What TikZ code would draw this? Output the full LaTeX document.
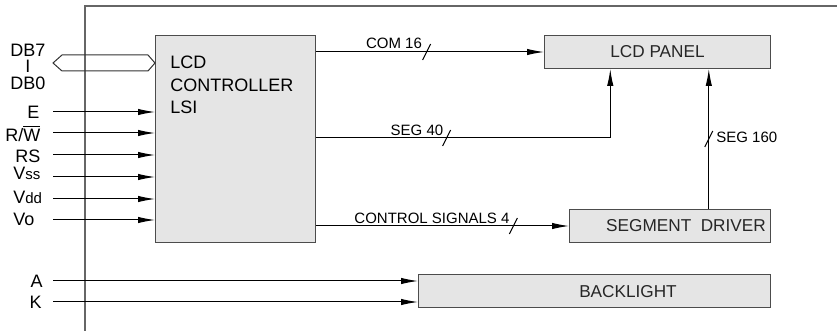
\documentclass[tikz,border=0pt]{standalone}
\usepackage{fontspec}
\setmainfont{Liberation Sans}
\usetikzlibrary{arrows.meta,calc,positioning}

\tikzset{
  blk/.style={draw=black!70, fill=black!10, line width=0.5pt, inner sep=0pt, anchor=north west},
  blklbl/.style={font=\fontsize{8.6}{10}\selectfont, inner sep=0pt, text=black!85},
  sig/.style={line width=0.5pt, -{Latex[length=8.5pt,width=3.2pt]}},
  pinlbl/.style={font=\fontsize{9}{10}\selectfont, inner sep=0pt},
  buslbl/.style={font=\fontsize{7.5}{9}\selectfont, inner sep=0pt},
  busslash/.pic={\draw[-, line width=0.5pt] (-4,8) -- (4,-8);}
}
\newcommand{\sml}[1]{{\fontsize{7.5}{9}\selectfont #1}}

\begin{document}
\begin{tikzpicture}[x=0.5pt, y=-0.5pt]
  \useasboundingbox (0,0) rectangle (837,331);

  % frame of the module
  \draw[black!60, line width=0.6pt] (85,331) -- (85,6) -- (837,6);

  % blocks
  \node[blk, minimum width=80pt, minimum height=103.5pt] (lsi) at (155,35) {};
  \node[anchor=north west, align=left, inner sep=0pt,
        font=\fontsize{9}{11.25}\selectfont] (lsitxt) at (170,56) {LCD\\CONTROLLER\\LSI};
  \node[blk, minimum width=113pt, minimum height=16.5pt] (panel) at (544,35) {};
  \node[blklbl] (paneltxt) at (panel.center) {LCD PANEL};
  \node[blk, minimum width=100.5pt, minimum height=16.5pt] (driver) at (569,209) {};
  \node[blklbl] (drivertxt) at (686,226) {SEGMENT\ \ DRIVER};
  \node[blk, minimum width=176pt, minimum height=16.5pt] (bl) at (418,274) {};
  \node[blklbl] (bltxt) at (628,292) {BACKLIGHT};

  % data bus
  \coordinate (busL) at (53,63);
  \coordinate (busR) at (lsi.west |- busL);
  \draw[black!80, line width=0.5pt] (busL) -- ++(9,-8) -- ($(busR)+(-7,-8)$) -- (busR)
    -- ($(busR)+(-7,8)$) -- ($(busL)+(9,8)$) -- cycle;
  \node[pinlbl, anchor=west] (db7) at (10,50) {DB7};
  \node[pinlbl] (dbbar) at (28,66) {I};
  \node[pinlbl, anchor=west] (db0) at (10,83) {DB0};

  % control and supply pins
  \node[pinlbl, anchor=west] (lE) at (27,112) {E};
  \node[pinlbl, anchor=west] (lRW) at (5,133) {R/$\overline{\mbox{W}}$};
  \node[pinlbl, anchor=west] (lRS) at (15,156) {RS};
  \node[pinlbl, anchor=west] (lVss) at (13,173) {V\sml{ss}};
  \node[pinlbl, anchor=west] (lVdd) at (13,197) {V\sml{dd}};
  \node[pinlbl, anchor=west] (lVo) at (13,219) {Vo};
  \coordinate (pE) at (53,112);
  \coordinate (pRW) at (53,133);
  \coordinate (pRS) at (53,155);
  \coordinate (pVss) at (53,177);
  \coordinate (pVdd) at (53,199);
  \coordinate (pVo) at (53,220);
  \draw[sig] (pE) -- (pE -| lsi.west);
  \draw[sig] (pRW) -- (pRW -| lsi.west);
  \draw[sig] (pRS) -- (pRS -| lsi.west);
  \draw[sig] (pVss) -- (pVss -| lsi.west);
  \draw[sig] (pVdd) -- (pVdd -| lsi.west);
  \draw[sig] (pVo) -- (pVo -| lsi.west);

  % backlight pins
  \node[pinlbl, anchor=east] (lA) at (43,281) {A};
  \node[pinlbl, anchor=east] (lK) at (42,302) {K};
  \coordinate (pA) at (53,281);
  \coordinate (pK) at (53,302);
  \draw[sig] (pA) -- (pA -| bl.west);
  \draw[sig] (pK) -- (pK -| bl.west);

  % buses out of the controller
  \coordinate (segin) at ($(panel.south west)!0.292!(panel.south east)$);
  \coordinate (segdrv) at ($(panel.south west)!0.726!(panel.south east)$);
  \draw[sig] (panel.west -| lsi.east) -- (panel.west) pic[pos=0.485] {busslash};
  \node[buslbl] (com) at (394,43) {COM 16};
  \draw[sig] (lsi.east |- 0,138) -| (segin) pic[pos=0.222] {busslash};
  \node[buslbl] (seg40) at (417,130) {SEG 40};
  \draw[sig] (driver.west -| lsi.east) -- (driver.west) pic[pos=0.78] {busslash};
  \node[buslbl] (ctrl) at (432,218) {CONTROL SIGNALS 4};
  \draw[sig] (driver.north -| segdrv) -- (segdrv) pic[pos=0.5] {busslash};
  \node[buslbl, anchor=west] (seg160) at (716,137) {SEG 160};
\end{tikzpicture}
\end{document}
